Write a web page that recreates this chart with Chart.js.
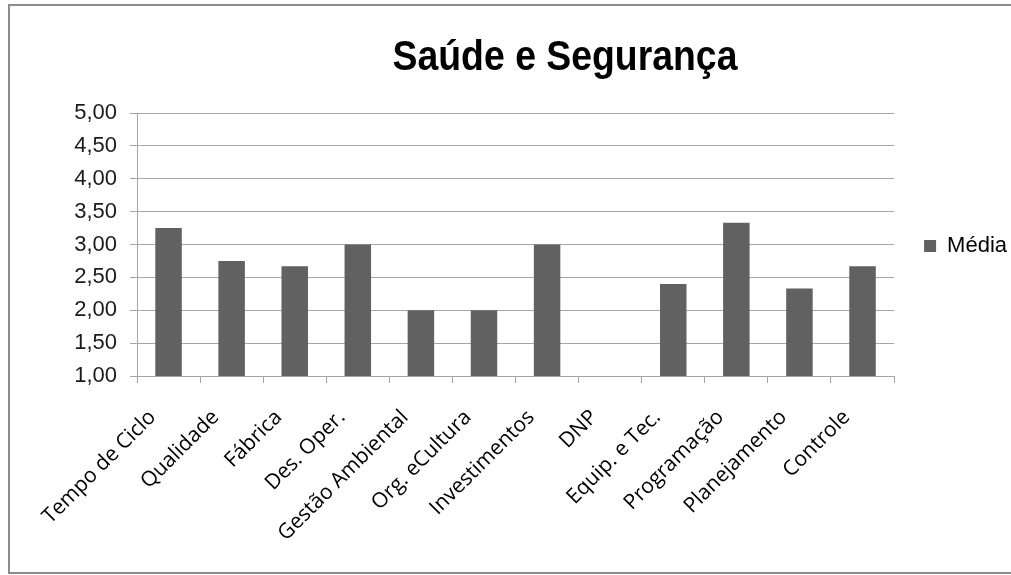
<!DOCTYPE html>
<html>
<head>
<meta charset="utf-8">
<script src="https://cdn.jsdelivr.net/npm/chart.js@4"></script>
<style>
    body { margin: 0; background: #fff; overflow: hidden; }
    #frame {
        position: absolute; left: 8px; top: 4px;
        width: 1030px; height: 570px;
        border: 2px solid #8c8c8c; box-sizing: border-box;
    }
    #chart { position: absolute; left: 0; top: 0; }
</style>
</head>
<body>
<div id="frame"></div>
<canvas id="chart" width="1011" height="575"></canvas>
<script>
// Categories and values
const categories = [
    'Tempo de Ciclo', 'Qualidade', 'Fábrica', 'Des. Oper.', 'Gestão Ambiental',
    'Org. eCultura', 'Investimentos', 'DNP', 'Equip. e Tec.', 'Programação',
    'Planejamento', 'Controle'
];
const media = [3.25, 2.75, 2.67, 3.00, 2.00, 2.00, 3.00, null, 2.40, 3.33, 2.33, 2.67];
const chartTitle = 'Saúde e Segurança';
const seriesLabel = 'Média';

const gridColor = '#a6a6a6';
const barColor = '#616161';

// Title drawn centred over the plot frame, narrow bold like the original
const titlePlugin = {
    id: 'frameTitle',
    afterDraw(chart) {
        const ctx = chart.ctx;
        ctx.save();
        ctx.translate(565, 58);
        ctx.scale(0.89, 1);
        ctx.fillStyle = '#000';
        ctx.font = "bold 42px 'Liberation Sans', Arial, sans-serif";
        ctx.textAlign = 'center';
        ctx.textBaseline = 'middle';
        ctx.fillText(chartTitle, 0, 0);
        ctx.restore();
    }
};

new Chart(document.getElementById('chart'), {
    type: 'bar',
    data: {
        labels: categories,
        datasets: [{
            label: seriesLabel,
            data: media,
            backgroundColor: barColor,
            borderWidth: 0,
            categoryPercentage: 1,
            barPercentage: 0.42
        }]
    },
    options: {
        responsive: false,
        animation: false,
        layout: {
            padding: { left: 10, right: -6, top: 113, bottom: 0 }
        },
        plugins: {
            title: { display: false },
            tooltip: { enabled: false },
            legend: {
                display: true,
                position: 'right',
                align: 'start',
                // empty title only pushes the single entry down beside the bars
                title: {
                    display: true,
                    text: ' ',
                    font: { size: 10 },
                    padding: { top: 80, bottom: 0 }
                },
                labels: {
                    color: '#000',
                    font: { family: "'Liberation Sans', Arial, sans-serif", size: 22 },
                    boxWidth: 12,
                    boxHeight: 12,
                    padding: 30
                }
            }
        },
        scales: {
            x: {
                afterFit(scale) { scale.height = 199; },
                grid: {
                    offset: true,
                    drawOnChartArea: false,
                    drawTicks: true,
                    tickLength: 7,
                    color: gridColor
                },
                border: { display: true, color: gridColor },
                ticks: {
                    autoSkip: false,
                    maxRotation: 45,
                    minRotation: 45,
                    labelOffset: -16,
                    padding: 22,
                    color: '#000',
                    font: { family: "'Open Sans', 'Noto Sans', sans-serif", size: 21 }
                }
            },
            y: {
                min: 1,
                max: 5,
                afterFit(scale) { scale.width = 127; },
                grid: {
                    color: gridColor,
                    drawTicks: true,
                    tickLength: 7
                },
                border: { display: true, color: gridColor },
                ticks: {
                    stepSize: 0.5,
                    padding: 13,
                    color: '#1a1a1a',
                    font: { family: "'Liberation Sans', Arial, sans-serif", size: 22 },
                    callback: v => v.toFixed(2).replace('.', ',')
                }
            }
        }
    },
    plugins: [titlePlugin]
});
</script>
</body>
</html>
